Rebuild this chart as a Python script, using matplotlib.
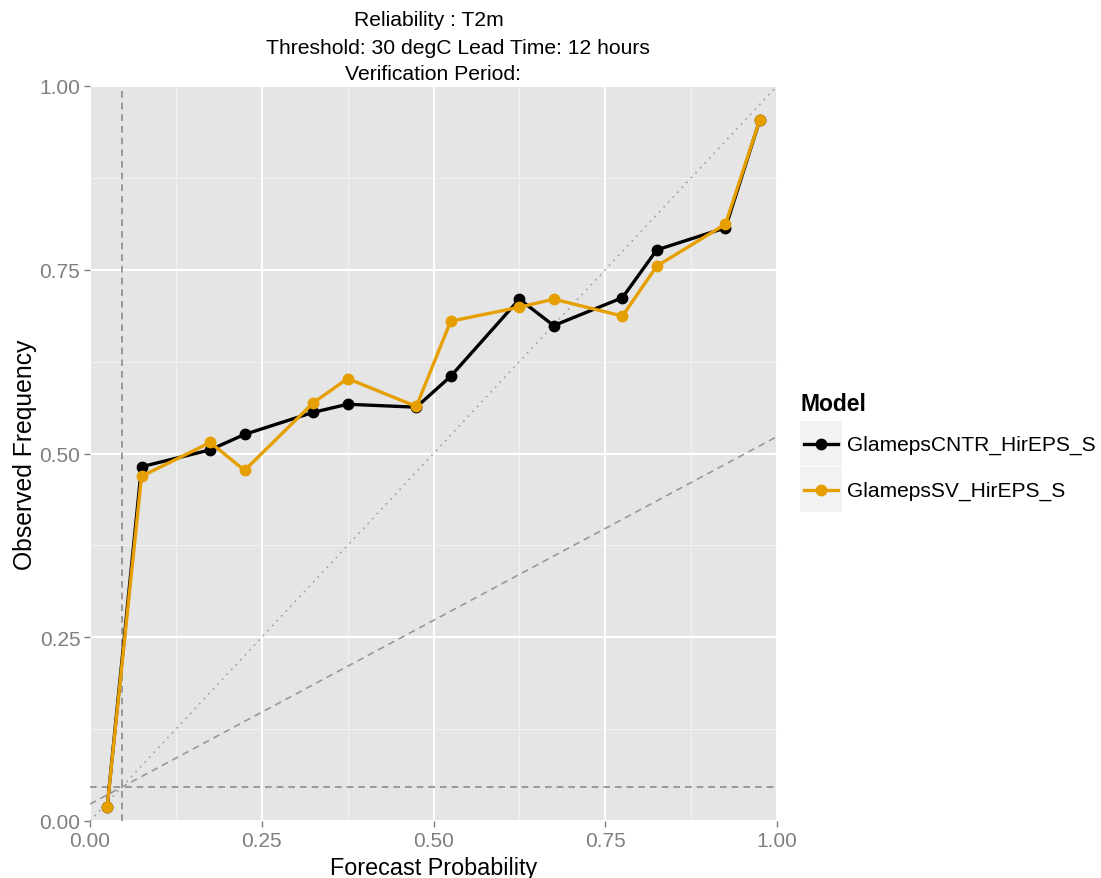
import matplotlib
matplotlib.use("Agg")
import matplotlib.pyplot as plt
from matplotlib.lines import Line2D
from matplotlib.patches import Rectangle
import numpy as np

plt.rcParams['font.family'] = ['Liberation Sans', 'DejaVu Sans']

# Forecast probability bin centres
prob_bins = [0.025, 0.075, 0.175, 0.225, 0.325, 0.375, 0.475, 0.525,
             0.625, 0.675, 0.775, 0.825, 0.925, 0.975]

# Observed frequency per bin for each model
freq_cntr = [0.019, 0.482, 0.505, 0.526, 0.556, 0.567, 0.563, 0.605,
             0.710, 0.674, 0.712, 0.777, 0.807, 0.954]
freq_sv = [0.019, 0.469, 0.515, 0.477, 0.569, 0.602, 0.564, 0.680,
           0.699, 0.710, 0.687, 0.755, 0.812, 0.954]

model_names = ["GlamepsCNTR_HirEPS_S", "GlamepsSV_HirEPS_S"]
model_colors = ["#000000", "#E69F00"]

climatology = 0.046

title_lines = ["Reliability : T2m",
               "Threshold: 30 degC Lead Time: 12 hours",
               "Verification Period:"]

W, H = 1101, 879
fig = plt.figure(figsize=(W / 100, H / 100), dpi=100)
ax = fig.add_axes([90 / W, 1 - 822 / H, (777 - 90) / W, (822 - 87) / H])
ax.set_facecolor("#E5E5E5")
for s in ax.spines.values():
    s.set_visible(False)

ax.set_xlim(0, 1)
ax.set_ylim(0, 1)
major = [0, 0.25, 0.5, 0.75, 1.0]
minor = [0.125, 0.375, 0.625, 0.875]
ax.set_xticks(major)
ax.set_yticks(major)
ax.set_xticks(minor, minor=True)
ax.set_yticks(minor, minor=True)
ax.set_xticklabels([f"{v:.2f}" for v in major])
ax.set_yticklabels([f"{v:.2f}" for v in major])
ax.tick_params(which="major", length=4, width=1, color="#7F7F7F",
               labelcolor="#7F7F7F", labelsize=15, pad=3)
ax.tick_params(which="minor", length=0)
ax.grid(which="major", color="white", linewidth=1.5)
ax.grid(which="minor", color="#F2F2F2", linewidth=0.8)
ax.set_axisbelow(True)

# Reference lines: perfect reliability, no-skill and climatology
xs = np.array([0.0, 1.0])
ax.plot(xs, xs, linestyle=(0, (1, 3)), color="#A0A0A0", linewidth=1.2, zorder=1.5)
ax.plot(xs, (xs + climatology) / 2, linestyle=(0, (4, 3)), color="#999999",
        linewidth=1.2, zorder=1.5)
ax.axhline(climatology, linestyle=(0, (4, 3)), color="#8C8C8C", linewidth=1.2, zorder=1.5)
ax.axvline(climatology, linestyle=(0, (4, 3)), color="#8C8C8C", linewidth=1.2, zorder=1.5)

for freq, col in zip([freq_cntr, freq_sv], model_colors):
    ax.plot(prob_bins, freq, color=col, linewidth=2.4, marker="o",
            markersize=7.5, zorder=3)

fig.text(433.5 / W, 1 - 869 / H, "Forecast Probability", ha="center",
         va="center", fontsize=16.8)
fig.text(25 / W, 1 - 455 / H, "Observed Frequency", ha="center",
         va="center", rotation=90, fontsize=17.8)

title_centres = [429, 458, 433]
for i, (line, xc) in enumerate(zip(title_lines, title_centres)):
    fig.text(xc / W, 1 - (21 + 27 * i) / H, line, ha="center", va="center",
             fontsize=15.2)

# Legend drawn by hand with grey key boxes
fig.text(800 / W, 1 - 405 / H, "Model", ha="left", va="center",
         fontsize=16.5, fontweight="bold")
key_tops = [422, 468]
for top, name, col in zip(key_tops, model_names, model_colors):
    fig.patches.append(Rectangle((800 / W, 1 - (top + 45) / H), 42 / W, 45 / H,
                                 transform=fig.transFigure, facecolor="#F2F2F2",
                                 edgecolor="none"))
    yc = 1 - (top + 23) / H
    fig.lines.append(Line2D([804 / W, 838 / W], [yc, yc], transform=fig.transFigure,
                            color=col, linewidth=2.4))
    fig.lines.append(Line2D([821 / W], [yc], transform=fig.transFigure, color=col,
                            marker="o", markersize=7.5))
    fig.text(847 / W, yc, name, ha="left", va="center", fontsize=15.1)

fig.savefig("out.png", dpi=100)
